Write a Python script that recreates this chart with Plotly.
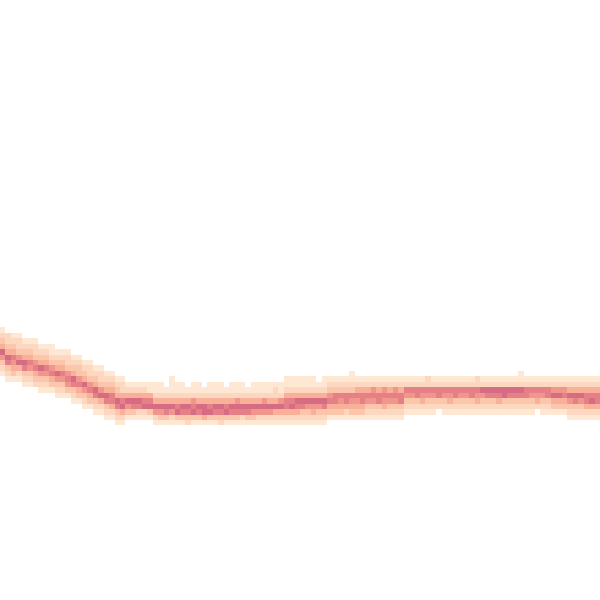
import numpy as np
import plotly.graph_objects as go

N_COLS = 110
N_ROWS = 110

# top row (from top) of each column's band, and intensity levels (0 = empty, 1..7)
col_top = [
    60, 61, 61, 61, 62, 62, 62, 63, 63, 63,
    64, 64, 64, 65, 65, 66, 66, 67, 67, 68,
    68, 69, 69, 70, 70, 70, 70, 70, 70, 70,
    70, 69, 70, 70, 70, 70, 70, 70, 70, 70,
    70, 70, 70, 70, 70, 70, 70, 70, 70, 70,
    70, 70, 69, 69, 69, 69, 69, 69, 69, 69,
    69, 69, 69, 69, 68, 69, 69, 69, 69, 69,
    69, 69, 69, 69, 69, 69, 69, 69, 69, 69,
    69, 69, 69, 69, 69, 69, 69, 69, 69, 69,
    69, 69, 69, 69, 69, 68, 69, 69, 69, 69,
    69, 69, 69, 69, 69, 69, 69, 69, 69, 69,
]
col_cells = [
    "123475321", "223476321", "123465431", "122357421", "123476321",
    "123465321", "122356432", "123475321", "123465321", "112356431",
    "123475321", "123465321", "122356531", "123476321", "123356431",
    "123475321", "122356431", "123476321", "122357421", "123476321",
    "123466421", "123476321", "122467421", "1247531", "1247631",
    "1247621", "1246721", "1146731", "11247521", "11247531",
    "01247631", "111247521", "11246731", "11247631", "01247632",
    "11256731", "11247631", "01247741", "11246731", "11247631",
    "11247632", "01246731", "11247631", "11257631", "11247621",
    "01247631", "11247531", "11247521", "11257521", "11247521",
    "12247421", "11257421", "112466421", "112467421", "112476421",
    "112476321", "112475321", "112475421", "012475321", "112476321",
    "12356431", "12366431", "12365431", "12366421", "112365431",
    "12465431", "12466431", "12465321", "12565321", "12466321",
    "12565421", "12465321", "12565321", "12466321", "1265321",
    "1265321", "1266321", "1265421", "2265321", "1265321",
    "1266320", "1265321", "1265421", "1266321", "1265321",
    "1265321", "1266321", "2265421", "1275321", "1276321",
    "1276321", "1276421", "1277321", "1276321", "1276321",
    "11276321", "1266321", "1265321", "1265420", "1265321",
    "1266321", "1257431", "1257431", "1256431", "12475321",
    "12476321", "12475321", "12466421", "12467421", "12466421",
]

level_colors = [
    "rgb(254,232,212)", "rgb(253,216,192)", "rgb(251,198,172)",
    "rgb(248,176,152)", "rgb(241,150,140)", "rgb(229,128,134)",
    "rgb(214,108,132)",
]

z = np.full((N_ROWS, N_COLS), np.nan)
for c, (top, cells) in enumerate(zip(col_top, col_cells)):
    for k, ch in enumerate(cells):
        v = int(ch)
        if v > 0:
            z[top + k, c] = v

n = len(level_colors)
colorscale = [[i / (n - 1), col] for i, col in enumerate(level_colors)]

fig = go.Figure(go.Heatmap(
    z=z,
    x=list(range(N_COLS)),
    y=list(range(N_ROWS)),
    colorscale=colorscale,
    zmin=1, zmax=7,
    showscale=False,
    hoverongaps=False,
))
fig.update_layout(
    width=600, height=600,
    margin=dict(l=0, r=0, t=0, b=0),
    paper_bgcolor="white", plot_bgcolor="white",
    xaxis=dict(visible=False, range=[-0.5, N_COLS - 0.5]),
    yaxis=dict(visible=False, range=[N_ROWS - 0.5, -0.5]),
)
fig.write_html(
    "out.html",
    config={"displayModeBar": False},
    post_script="document.body.style.margin='0';document.body.style.padding='0';",
)
